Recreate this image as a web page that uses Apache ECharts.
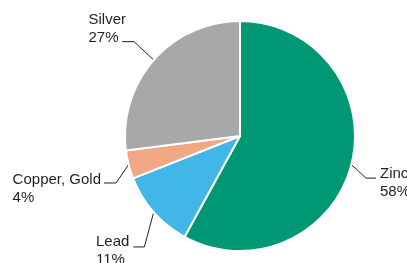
<!DOCTYPE html>
<html>
<head>
<meta charset="utf-8">
<script src="https://cdn.jsdelivr.net/npm/echarts@6/dist/echarts.min.js"></script>
<style>
    html, body { margin: 0; padding: 0; background: #fff; }
    #chartPie { width: 407px; height: 263px; }
</style>
</head>
<body>
<div id="chartPie"></div>
<script>
let categories = ['Zinc', 'Lead', 'Copper, Gold', 'Silver'];
let shares = [58, 11, 4, 27];
let sliceColors = ['#009874', '#42b6e6', '#f1a783', '#a7a8aa'];

// label placement relative to the slice edge point:
// side (1 right, -1 left), text x, text top, line y (from text top), gap, horizontal length
let labelPlace = [
    [1, 28.6, 0, 13.5, 4, 10],
    [-1, -24.4, 20.9, 14, 4, 11],
    [-1, -27.6, 5.9, 12.5, 3, 12],
    [-1, -27.7, -49, 30.7, -4, 12]
];

let textColor = '#231f20';

let chartPie = echarts.init(document.getElementById('chartPie'));

let pieData = [];
for (let index = 0; index < categories.length; index++) {
    pieData.push({
        name: categories[index],
        value: shares[index],
        itemStyle: {color: sliceColors[index]}
    });
}

chartPie.setOption({
    animation: false,
    series: [
        {
            type: 'pie',
            center: [240, 136],
            radius: 115,
            startAngle: 90,
            clockwise: true,
            avoidLabelOverlap: false,
            itemStyle: {
                borderColor: '#fff',
                borderWidth: 2
            },
            label: {
                show: true,
                position: 'outer',
                overflow: 'none',
                formatter: '{t|{b}}\n{t|{c}%}',
                rich: {
                    t: {
                        fontFamily: 'Liberation Sans',
                        fontSize: 15,
                        lineHeight: 18,
                        align: 'left',
                        color: textColor
                    }
                }
            },
            labelLine: {
                show: true,
                length: 0,
                length2: 0,
                lineStyle: {
                    color: textColor,
                    width: 1
                }
            },
            labelLayout: function (params) {
                let p = labelPlace[params.dataIndex];
                let anchor = params.labelLinePoints[0];
                let x = anchor[0] + p[1];
                let y = anchor[1] + p[2];
                let lineY = y + p[3];
                let lineEnd = p[0] > 0 ? x - p[4] : x + p[4];
                let bend = p[0] > 0 ? lineEnd - p[5] : lineEnd + p[5];
                return {
                    x: x,
                    y: y,
                    align: p[0] > 0 ? 'left' : 'right',
                    verticalAlign: 'top',
                    labelLinePoints: [
                        [anchor[0], anchor[1]],
                        [bend, lineY],
                        [lineEnd, lineY]
                    ]
                };
            },
            emphasis: {disabled: true},
            data: pieData
        }
    ]
});
</script>
</body>
</html>
